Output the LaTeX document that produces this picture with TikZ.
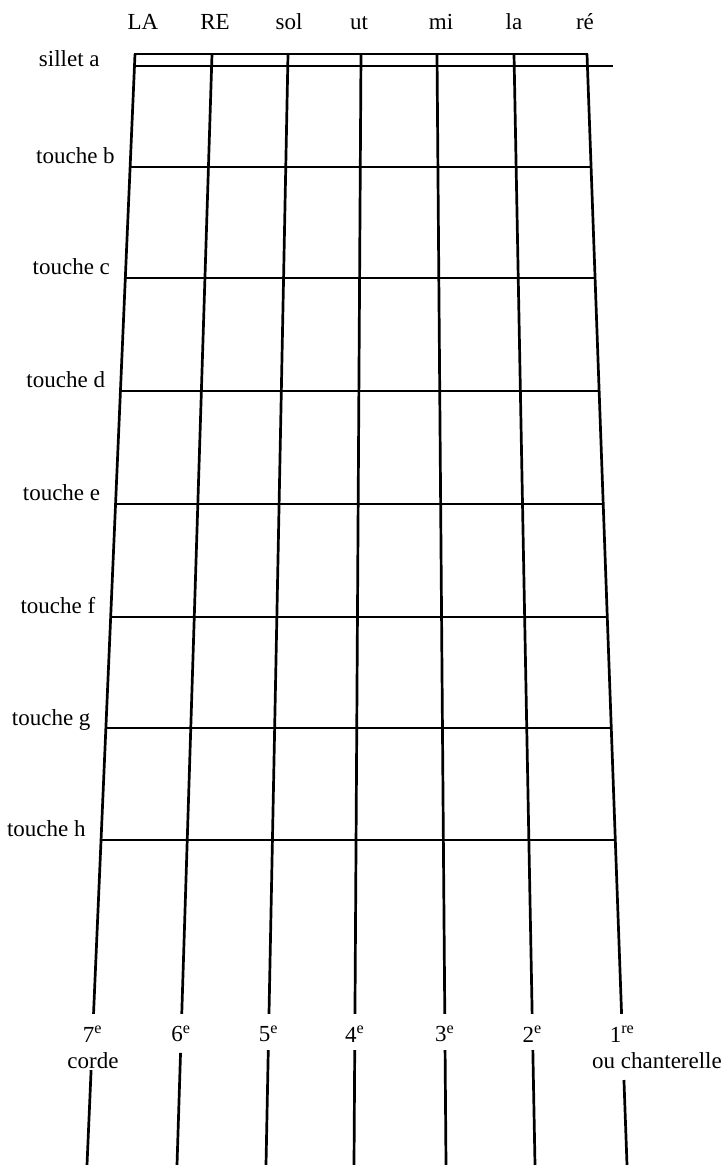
\documentclass[tikz,border=0pt]{standalone}
\usepackage{fontspec}
\setmainfont{Liberation Serif}
\usetikzlibrary{calc}

\begin{document}
\begin{tikzpicture}[x=0.5pt,y=-0.5pt,
  corde/.style={line width=1.35pt},
  frette/.style={line width=1pt},
  lbl/.style={font=\fontsize{11.5}{13}\selectfont, inner sep=0pt}]
\useasboundingbox (0,0) rectangle (723,1165);
\def\ytop{54}
\def\ybot{1165}

% ends of the seven strings (top at the nut, bottom at the lower edge)
\foreach \n/\xt/\xb in {7/135/87,6/212/177,5/288/266,4/361/354,3/437/446,2/514/535,1/587/627}{
  \coordinate (t\n) at (\xt,\ytop);
  \coordinate (b\n) at (\xb,\ybot);
}

% sillet (nut), lower line runs past the last string
\draw[frette] (t7) rectangle ($(t1)+(0,12)$);
\draw[frette] ($(t7)+(0,12)$) -- (613,66);
\node[lbl, anchor=base east] at (100,67) {sillet a};

% strings, broken where the numbers are written
\foreach \n/\tb in {7/0.9145,6/0.899,5/0.8965,4/0.8965,3/0.8965,2/0.8965,1/0.9235}{
  \draw[corde] (t\n) -- ($(t\n)!0.864!(b\n)$);
  \draw[corde] ($(t\n)!\tb!(b\n)$) -- (b\n);
}

% frets
\foreach \l/\y in {b/167,c/278,d/391,e/504,f/617,g/728,h/840}{
  \pgfmathsetmacro\fr{(\y-\ytop)/(\ybot-\ytop)}
  \draw[frette] ($(t7)!\fr!(b7)$) coordinate (f\l) -- ($(t1)!\fr!(b1)$);
  \node[lbl, anchor=base east] at ($(f\l)+(-15,-3)$) {touche \l};
}

% names of the open strings
\foreach \n/\s/\dx in {7/LA/8,6/RE/3,5/sol/1,4/ut/-2,3/mi/4,2/la/0,1/ré/-2}
  \node[lbl, anchor=base] at ($(t\n)+(\dx,-24)$) {\s};

% numbers of the strings
\foreach \n in {7,6,5,4,3,2}
  \node[lbl] at ($(t\n)!0.882!(b\n)$) {\n\textsuperscript{e}};
\node[lbl] at ($(t1)!0.882!(b1)$) {1\textsuperscript{re}};
\node[lbl, anchor=base] at (93,1068) {corde};
\node[lbl, anchor=base] at (657,1068) {ou chanterelle};
\end{tikzpicture}
\end{document}
